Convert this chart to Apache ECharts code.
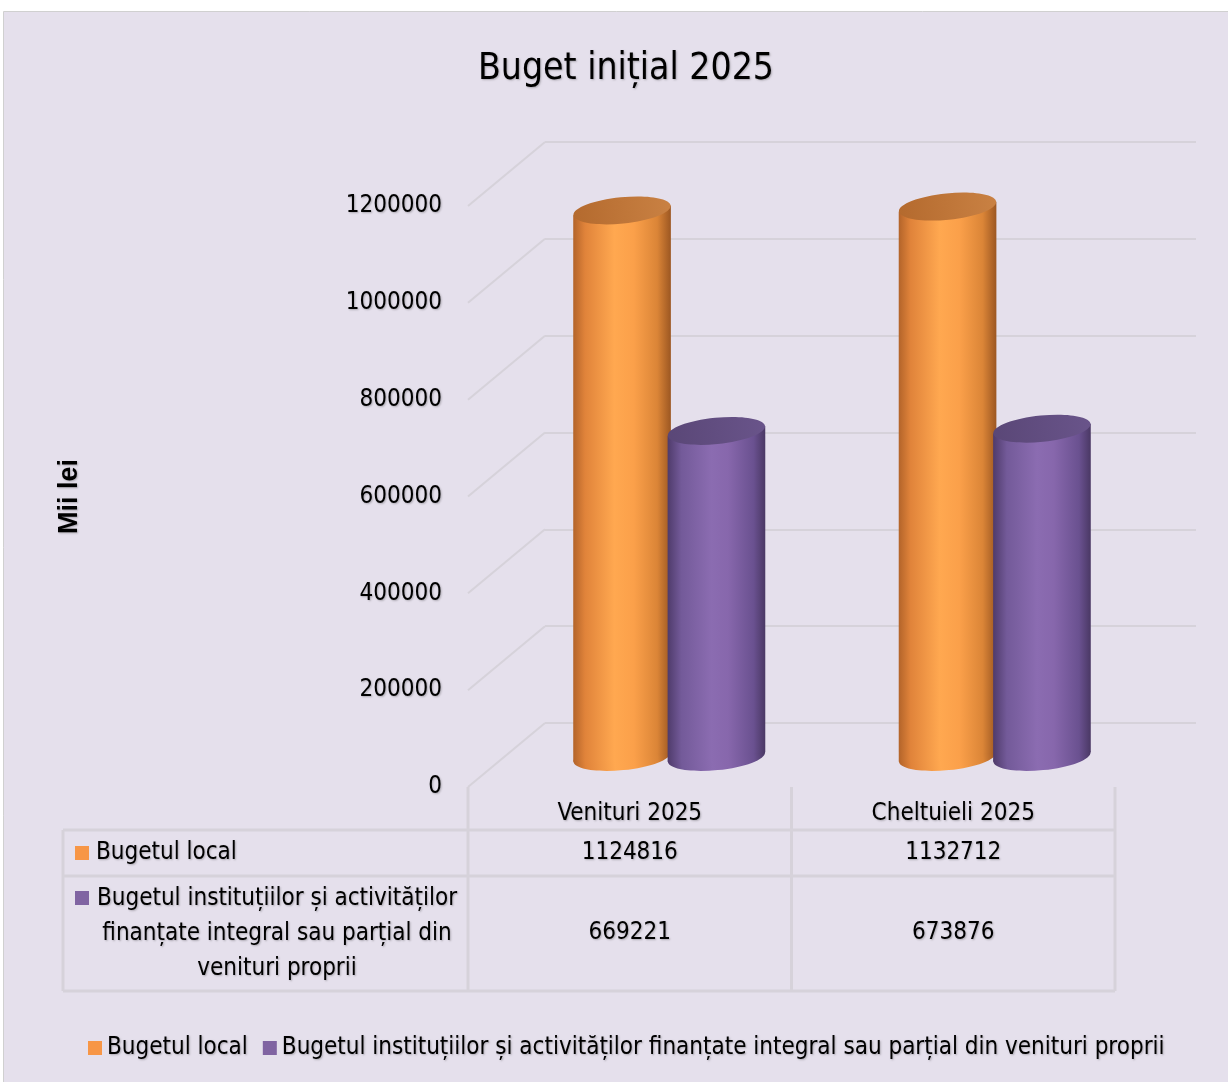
<!DOCTYPE html>
<html><head><meta charset="utf-8">
<script src="https://cdn.jsdelivr.net/npm/echarts@6/dist/echarts.min.js"></script>
<style>html,body{margin:0;padding:0;background:#fff}#c{width:1228px;height:1082px}</style>
</head><body><div id="c"></div>
<script>
// ---- data ----
const chartTitle = 'Buget inițial 2025';
const categories = ['Venituri 2025', 'Cheltuieli 2025'];
const seriesNames = ['Bugetul local', 'Bugetul instituțiilor și activităților finanțate integral sau parțial din venituri proprii'];
const bugetulLocal = [1124816, 1132712];
const bugetulInstitutii = [669221, 673876];
const yTicks = [0, 200000, 400000, 600000, 800000, 1000000, 1200000];
const yAxisName = 'Mii lei';
const rowLabels = ['Bugetul local', 'Bugetul instituțiilor și activităților\nfinanțate integral sau parțial din\nvenituri proprii'];

// ---- layout / style ----
const FONT = "'DejaVu Sans Condensed', 'DejaVu Sans', sans-serif";
const FS = 24;
const BG = '#E5E0EC';
const LINE = '#D6D2DA';
const FRONT = {left: 468, top: 206, width: 647, height: 581};
const DEPTH = {x: 77, y: 64};
const BACK = {left: FRONT.left + DEPTH.x, top: FRONT.top - DEPTH.y, width: 651, height: FRONT.height};
const TILT = 0.1;
const COLORS = [
  {legend: '#F79646',
   body: [[0,'#B3642A'],[0.12,'#E0833A'],[0.42,'#FFA850'],[0.62,'#FBA04A'],[0.86,'#DB8537'],[1,'#9C5722']],
   top: [[0,'#B46A2E'],[1,'#C98143']]},
  {legend: '#8064A2',
   body: [[0,'#4F3B6B'],[0.14,'#735A99'],[0.45,'#8B6CB1'],[0.62,'#8767AC'],[0.88,'#6A5190'],[1,'#4A3864']],
   top: [[0,'#5A4777'],[1,'#69548A']]}
];
const shadow = {textShadowColor: 'rgba(0,0,0,0.25)', textShadowBlur: 2, textShadowOffsetX: 1, textShadowOffsetY: 1};

function stops(arr){ return arr.map(s => ({offset: s[0], color: s[1]})); }

function cylinderRender(ci, offsetFrac) {
  return function (params, api) {
    const idx = api.value(0), val = api.value(1);
    const top = api.coord([idx, val]);
    const base = api.coord([idx, 0]);
    const band = api.size([1, 0])[0];
    const w = band * 0.3, rx = w / 2, ry = w * 0.135;
    const cx = top[0] + band * offsetFrac - DEPTH.x / 2;
    const ty = top[1] + DEPTH.y / 2;
    const by = base[1] + DEPTH.y / 2 + 2;
    const s = rx * Math.sin(TILT);
    const bodyGrad = new echarts.graphic.LinearGradient(0, 0, 1, 0, stops(COLORS[ci].body));
    const topGrad = new echarts.graphic.LinearGradient(0, 0, 1, 0, stops(COLORS[ci].top));
    return {type: 'group', children: [
      {type: 'ellipse', shape: {cx: cx, cy: by, rx: rx, ry: ry}, rotation: TILT, originX: cx, originY: by,
       style: {fill: new echarts.graphic.LinearGradient(0, 0, 1, 0, stops(COLORS[ci].body))}},
      {type: 'polygon', shape: {points: [[cx - rx, ty + s], [cx + rx, ty - s], [cx + rx, by - s], [cx - rx, by + s]]},
       style: {fill: bodyGrad}},
      {type: 'ellipse', shape: {cx: cx, cy: ty, rx: rx, ry: ry}, rotation: TILT, originX: cx, originY: ty,
       style: {fill: topGrad}}
    ]};
  };
}

function diagRender(params, api) {
  const p = api.coord([0, api.value(1)]);
  const x0 = params.coordSys.x;
  return {type: 'line', shape: {x1: x0, y1: p[1], x2: x0 - DEPTH.x, y2: p[1] + DEPTH.y},
          style: {stroke: LINE, lineWidth: 2}};
}

// table geometry
const T = {left: 63, headTop: FRONT.top + FRONT.height, row1Top: 830, row2Top: 876, bottom: 991,
           colX: [FRONT.left, FRONT.left + FRONT.width / 2, FRONT.left + FRONT.width]};
const tableGraphics = [];
function hline(y, x1, x2){ tableGraphics.push({type:'line', shape:{x1:x1, y1:y, x2:x2, y2:y}, style:{stroke:LINE, lineWidth:3}}); }
function vline(x, y1, y2){ tableGraphics.push({type:'line', shape:{x1:x, y1:y1, x2:x, y2:y2}, style:{stroke:LINE, lineWidth:3}}); }
hline(T.row1Top, T.left, T.colX[2]); hline(T.row2Top, T.left, T.colX[2]); hline(T.bottom, T.left, T.colX[2]);
vline(T.left, T.row1Top, T.bottom);
T.colX.forEach(x => vline(x, T.headTop, T.bottom));
// row labels
tableGraphics.push({type:'rect', shape:{x:75, y:(T.row1Top+T.row2Top)/2 - 7, width:14, height:14}, style:{fill:COLORS[0].legend}});
tableGraphics.push({type:'text', x:96, y:(T.row1Top+T.row2Top)/2,
  style:Object.assign({text: rowLabels[0], font: FS + 'px ' + FONT, fill:'#000', verticalAlign:'middle', align:'left'}, shadow)});
tableGraphics.push({type:'rect', shape:{x:75, y:T.row2Top + 15, width:14, height:14}, style:{fill:COLORS[1].legend}});
tableGraphics.push({type:'text', x:277, y:(T.row2Top+T.bottom)/2,
  style:Object.assign({text: rowLabels[1], font: FS + 'px ' + FONT, fill:'#000', verticalAlign:'middle', align:'center', lineHeight:35}, shadow)});

const chart = echarts.init(document.getElementById('c'));
const labelStyle = Object.assign({color:'#000', fontFamily: FONT, fontSize: FS}, shadow);

chart.setOption({
  backgroundColor: '#fff',
  animation: false,
  title: {text: chartTitle, left: 621, top: 46, textAlign: 'center',
    textStyle: Object.assign({color:'#000', fontFamily: FONT, fontSize: 37, fontWeight: 'normal'}, shadow)},
  legend: {left: 83, top: 1031, width: 1140, itemWidth: 14, itemHeight: 14, itemGap: 15, icon: 'rect',
    textStyle: labelStyle, data: seriesNames},
  graphic: [{type:'rect', z: -100, shape:{x:3.5, y:11.5, width:1240, height:1090}, style:{fill:BG, stroke:'#D0D0D0', lineWidth:1}}].concat(tableGraphics),
  grid: [
    {left: FRONT.left, top: FRONT.top, width: FRONT.width, height: FRONT.height},
    {left: BACK.left, top: BACK.top, width: BACK.width, height: BACK.height}
  ],
  xAxis: [
    {type:'category', gridIndex:0, data: categories, position:'bottom',
     axisLine:{show:false}, axisTick:{show:false}, splitLine:{show:false},
     axisLabel: Object.assign({interval:0, margin: 27, verticalAlign:'middle'}, labelStyle)},
    {type:'category', gridIndex:1, data: categories, show:false},
    {type:'category', gridIndex:0, data: bugetulLocal.map(String), position:'bottom', offset: 66,
     axisLine:{show:false}, axisTick:{show:false}, splitLine:{show:false},
     axisLabel: Object.assign({interval:0, margin: 0, verticalAlign:'middle'}, labelStyle)},
    {type:'category', gridIndex:0, data: bugetulInstitutii.map(String), position:'bottom', offset: 146,
     axisLine:{show:false}, axisTick:{show:false}, splitLine:{show:false},
     axisLabel: Object.assign({interval:0, margin: 0, verticalAlign:'middle'}, labelStyle)}
  ],
  yAxis: [
    {type:'value', gridIndex:0, min: yTicks[0], max: yTicks[yTicks.length-1], interval: yTicks[1]-yTicks[0],
     axisLine:{show:false}, axisTick:{show:false}, splitLine:{show:false},
     axisLabel: Object.assign({margin: 26, formatter: v => String(v)}, labelStyle),
     name: yAxisName, nameLocation:'middle', nameRotate: 90, nameGap: 385,
     nameTextStyle: Object.assign({color:'#000', fontFamily:"'Liberation Sans', Arial, sans-serif", fontSize: 27, fontWeight:'bold'}, shadow)},
    {type:'value', gridIndex:1, min: yTicks[0], max: yTicks[yTicks.length-1], interval: yTicks[1]-yTicks[0],
     axisLine:{show:false}, axisTick:{show:false}, axisLabel:{show:false},
     splitLine:{show:true, lineStyle:{color: LINE, width: 2}}}
  ],
  series: [
    {type:'custom', name:'diag', xAxisIndex:1, yAxisIndex:1, renderItem: diagRender,
     data: yTicks.map(v => [0, v]), z: 1, silent: true},
    {type:'custom', name: seriesNames[0], xAxisIndex:1, yAxisIndex:1, renderItem: cylinderRender(0, -0.145),
     itemStyle:{color: COLORS[0].legend}, data: bugetulLocal.map((v, i) => [i, v]), encode:{x:0, y:1}, z: 3},
    {type:'custom', name: seriesNames[1], xAxisIndex:1, yAxisIndex:1, renderItem: cylinderRender(1, 0.145),
     itemStyle:{color: COLORS[1].legend}, data: bugetulInstitutii.map((v, i) => [i, v]), encode:{x:0, y:1}, z: 4}
  ]
});
</script></body></html>
